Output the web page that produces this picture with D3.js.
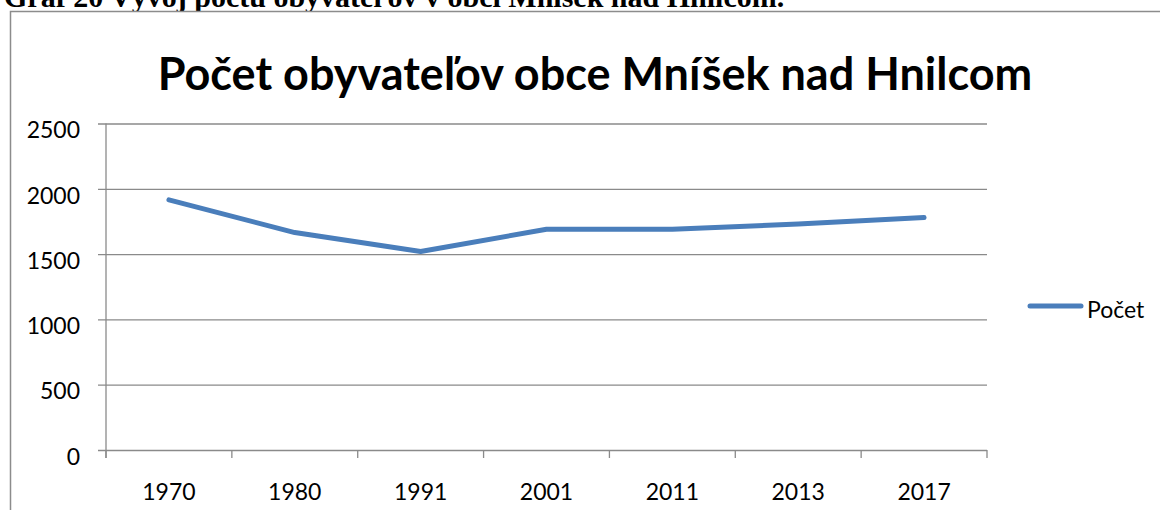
<!DOCTYPE html>
<html><head><meta charset="utf-8">
<script src="https://cdn.jsdelivr.net/npm/d3@7"></script>
<style>html,body{margin:0;padding:0;background:#fff;overflow:hidden}</style>
</head><body>
<svg id="c" width="1160" height="510"></svg>
<script>
const categories = ["1970","1980","1991","2001","2011","2013","2017"];
const values = [1915, 1665, 1520, 1690, 1690, 1730, 1780];
const yTicks = [0, 500, 1000, 1500, 2000, 2500];
const seriesName = "Počet";
const chartTitle = "Počet obyvateľov obce Mníšek nad Hnilcom";
const caption = "Graf 20 Vývoj počtu obyvateľov v obci Mníšek nad Hnilcom.";

const svg = d3.select("#c");
const font = "Lato, 'Open Sans', sans-serif";

// caption (cut off at top, as in the reference)
svg.append("text").attr("x", 4).attr("y", 7)
  .attr("font-family", "'Liberation Serif', 'Times New Roman', serif")
  .attr("font-weight", "bold").attr("font-size", 30).attr("fill", "#000")
  .text(caption);

// chart frame
svg.append("rect").attr("x", 10.5).attr("y", 11.5).attr("width", 1200).attr("height", 600)
  .attr("fill", "#fff").attr("stroke", "#8c8c8c").attr("stroke-width", 1.5);

const pLeft = 106, pRight = 987, pTop = 123.5, pBottom = 450;
const x = d3.scaleBand().domain(categories).range([pLeft, pRight]);
const y = d3.scaleLinear().domain([0, 2500]).range([pBottom, pTop]);

// title
svg.append("text").attr("x", 595).attr("y", 90).attr("text-anchor", "middle")
  .attr("font-family", font).attr("font-weight", "bold").attr("font-size", 45)
  .attr("fill", "#000").text(chartTitle);

// gridlines + y axis
const yAxis = d3.axisLeft(y).tickValues(yTicks).tickSize(-(pRight - pLeft)).tickPadding(0).tickFormat(d3.format("d"));
const gy = svg.append("g").attr("transform", `translate(${pLeft},0)`).call(yAxis);
gy.select(".domain").remove();
gy.selectAll(".tick line").attr("stroke", "#8a8a8a").attr("stroke-width", 1.3).attr("x1", -8);
gy.selectAll(".tick text").attr("font-family", font).attr("font-size", 23).attr("fill", "#000")
  .attr("x", -26).attr("y", 6).attr("dy", "0.36em");
svg.append("line").attr("x1", pLeft).attr("x2", pLeft).attr("y1", pTop).attr("y2", pBottom + 8)
  .attr("stroke", "#8a8a8a").attr("stroke-width", 1.3);

// x axis
const xAxis = d3.axisBottom(x).tickSize(0).tickPadding(0);
const gx = svg.append("g").attr("transform", `translate(0,${pBottom})`).call(xAxis);
gx.select(".domain").remove();
gx.selectAll(".tick text").attr("font-family", font).attr("font-size", 23).attr("fill", "#000").attr("y", 34);
const edges = categories.map(c => x(c)).concat([x.range()[1]]);
svg.append("g").selectAll("line").data(edges).join("line")
  .attr("x1", d => d).attr("x2", d => d).attr("y1", pBottom).attr("y2", pBottom + 8)
  .attr("stroke", "#8a8a8a").attr("stroke-width", 1.3);

// series line
const line = d3.line().x((d, i) => x(categories[i]) + x.bandwidth() / 2).y(d => y(d));
svg.append("path").datum(values).attr("d", line).attr("fill", "none")
  .attr("stroke", "#4a7ebb").attr("stroke-width", 5).attr("stroke-linecap", "round").attr("stroke-linejoin", "round");

// legend
svg.append("line").attr("x1", 1030).attr("x2", 1081).attr("y1", 306).attr("y2", 306)
  .attr("stroke", "#4a7ebb").attr("stroke-width", 5).attr("stroke-linecap", "round");
svg.append("text").attr("x", 1087).attr("y", 318).attr("font-family", font).attr("font-size", 23)
  .attr("fill", "#000").text(seriesName);
</script>
</body></html>
